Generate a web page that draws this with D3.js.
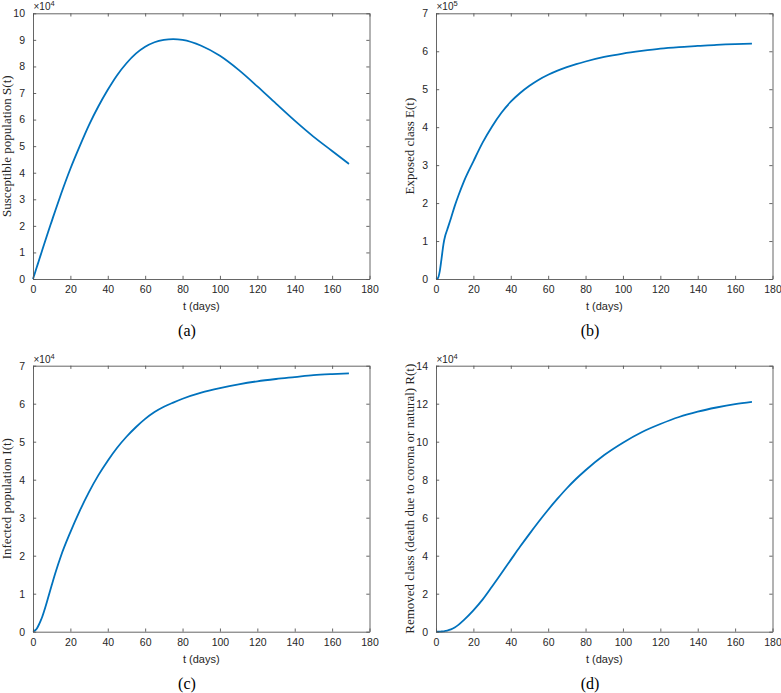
<!DOCTYPE html>
<html>
<head>
<meta charset="utf-8">
<script src="https://cdn.jsdelivr.net/npm/d3@7"></script>
<style>
  html, body { margin: 0; padding: 0; background: #fff; }
  svg { display: block; }
</style>
</head>
<body>
<svg id="fig"></svg>
<script>
// sample times (days)
const tDays = [0, 1, 2, 3, 4, 5, 6, 8, 10, 12, 15, 20, 25, 30, 35, 40, 45, 50, 55, 60, 65, 70, 75, 80, 90, 100, 110, 120, 130, 140, 150, 160, 169];

// S(t) in units of 1e4
const susceptible = [0, 0.22, 0.44, 0.66, 0.88, 1.1, 1.32, 1.75, 2.17, 2.59, 3.2, 4.15, 5.0, 5.8, 6.5, 7.12, 7.67, 8.12, 8.48, 8.74, 8.91, 9.0, 9.03, 9.0, 8.78, 8.4, 7.87, 7.25, 6.6, 5.96, 5.36, 4.82, 4.33];
// E(t) in units of 1e5
const exposed = [0, 0.02, 0.2, 0.55, 0.92, 1.15, 1.3, 1.6, 1.92, 2.2, 2.58, 3.1, 3.6, 4.02, 4.38, 4.67, 4.9, 5.09, 5.25, 5.38, 5.49, 5.58, 5.66, 5.73, 5.85, 5.94, 6.01, 6.07, 6.11, 6.14, 6.17, 6.19, 6.2];
// I(t) in units of 1e4
const infected = [0, 0.03, 0.08, 0.17, 0.28, 0.4, 0.55, 0.88, 1.22, 1.55, 2.0, 2.62, 3.18, 3.68, 4.12, 4.5, 4.84, 5.13, 5.38, 5.6, 5.78, 5.92, 6.03, 6.13, 6.29, 6.41, 6.51, 6.59, 6.65, 6.7, 6.75, 6.78, 6.8];
// R(t) in units of 1e4
const removed = [0, 0, 0.005, 0.01, 0.02, 0.04, 0.06, 0.12, 0.22, 0.36, 0.62, 1.12, 1.7, 2.38, 3.08, 3.78, 4.48, 5.15, 5.8, 6.42, 7.0, 7.55, 8.05, 8.5, 9.3, 9.95, 10.5, 10.93, 11.3, 11.58, 11.8, 11.98, 12.1];

const xTicks = [0, 20, 40, 60, 80, 100, 120, 140, 160, 180];
const yTicksA = [0, 1, 2, 3, 4, 5, 6, 7, 8, 9, 10];
const yTicksB = [0, 1, 2, 3, 4, 5, 6, 7];
const yTicksC = [0, 1, 2, 3, 4, 5, 6, 7];
const yTicksD = [0, 2, 4, 6, 8, 10, 12, 14];

const W = 781, H = 693;
const svg = d3.select("#fig").attr("width", W).attr("height", H);

const sans = "'Liberation Sans', Helvetica, Arial, sans-serif";
const serif = "'Liberation Serif', 'DejaVu Serif', serif";
const ink = "#262626";

function drawPanel(p) {
  const x = d3.scaleLinear().domain([0, 180]).range([p.left, p.right]);
  const y = d3.scaleLinear().domain([0, d3.max(p.yTicks)]).range([p.bottom, p.top]);
  const g = svg.append("g");
  const tick = 3.2;
  const fmt = d3.format("d");

  // curve
  const line = d3.line()
    .x((d, i) => x(tDays[i]))
    .y(d => y(d))
    .curve(d3.curveMonotoneX);
  g.append("path")
    .datum(p.values)
    .attr("d", line)
    .attr("fill", "none")
    .attr("stroke", "#0072BD")
    .attr("stroke-width", 1.8);

  // axes: bottom / left with labels, top / right plain, ticks inward
  const xb = d3.axisBottom(x).tickValues(xTicks).tickFormat(fmt).tickSizeInner(-tick).tickSizeOuter(0).tickPadding(7);
  const xt = d3.axisTop(x).tickValues(xTicks).tickSizeInner(-tick).tickSizeOuter(0).tickFormat("");
  const yl = d3.axisLeft(y).tickValues(p.yTicks).tickFormat(fmt).tickSizeInner(-tick).tickSizeOuter(0).tickPadding(8);
  const yr = d3.axisRight(y).tickValues(p.yTicks).tickSizeInner(-tick).tickSizeOuter(0).tickFormat("");

  [[xb, `translate(0,${p.bottom})`], [xt, `translate(0,${p.top})`],
   [yl, `translate(${p.left},0)`], [yr, `translate(${p.right},0)`]].forEach(([ax, tr]) => {
    const a = g.append("g").attr("transform", tr).call(ax);
    a.select(".domain").attr("stroke", "#555").attr("stroke-width", 0.9);
    a.selectAll(".tick line").attr("stroke", "#555").attr("stroke-width", 0.9);
    a.selectAll(".tick text").attr("fill", ink).style("font-family", sans).style("font-size", "10.5px");
  });

  // exponent
  const ex = g.append("text")
    .attr("x", p.left + 0.5)
    .attr("y", p.top - 3)
    .attr("fill", ink)
    .style("font-family", sans)
    .style("font-size", "10px");
  ex.append("tspan").text("\u00d710");
  ex.append("tspan").attr("dy", -4).style("font-size", "7.5px").text(p.exp);

  // x label
  g.append("text")
    .attr("x", (p.left + p.right) / 2)
    .attr("y", p.bottom + 31)
    .attr("text-anchor", "middle")
    .attr("fill", ink)
    .style("font-family", sans)
    .style("font-size", "11px")
    .text("t (days)");

  // y label
  g.append("text")
    .attr("transform", `translate(${p.left - 22},${(p.top + p.bottom) / 2}) rotate(-90)`)
    .attr("text-anchor", "middle")
    .attr("fill", ink)
    .style("font-family", serif)
    .style("font-size", "13px")
    .text(p.ylabel);

  // caption
  g.append("text")
    .attr("x", p.captionX)
    .attr("y", p.bottom + 57)
    .attr("text-anchor", "middle")
    .attr("fill", "#000")
    .style("font-family", serif)
    .style("font-size", "16px")
    .text(p.caption);
}

const topY = 13.3, botY = 279, topY2 = 365.7, botY2 = 631.7;
const leftL = 33, rightL = 369.5, leftR = 436, rightR = 772.5;

drawPanel({ left: leftL, right: rightL, top: topY, bottom: botY, yTicks: yTicksA, values: susceptible,
  exp: "4", ylabel: "Susceptible population S(t)", caption: "(a)", captionX: 187 });
drawPanel({ left: leftR, right: rightR, top: topY, bottom: botY, yTicks: yTicksB, values: exposed,
  exp: "5", ylabel: "Exposed class E(t)", caption: "(b)", captionX: 590 });
drawPanel({ left: leftL, right: rightL, top: topY2, bottom: botY2, yTicks: yTicksC, values: infected,
  exp: "4", ylabel: "Infected population I(t)", caption: "(c)", captionX: 187 });
drawPanel({ left: leftR, right: rightR, top: topY2, bottom: botY2, yTicks: yTicksD, values: removed,
  exp: "4", ylabel: "Removed class (death due to corona or natural) R(t)", caption: "(d)", captionX: 590 });
</script>
</body>
</html>
